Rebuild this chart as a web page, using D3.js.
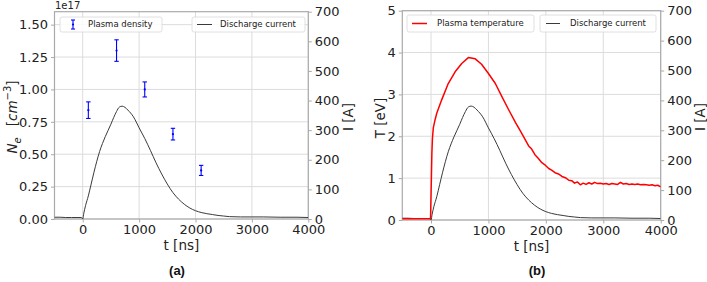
<!DOCTYPE html>
<html>
<head>
<meta charset="utf-8">
<script src="https://cdn.jsdelivr.net/npm/d3@7"></script>
<style>
  body { margin: 0; background: #fff; }
  svg { display: block; font-family: "DejaVu Sans", sans-serif; }
  .tick text { fill: #222; }
</style>
</head>
<body>
<div id="chart"></div>
<script>
// data
let densityT = [100, 600, 1100, 1600, 2100];
let densityN = [0.84, 1.30, 1.00, 0.655, 0.375];   // x 1e17 cm^-3
let densityErr = [0.064, 0.083, 0.058, 0.045, 0.039];

let currentT = [-500, -400, -300, -200, -100, -30, -10, 0, 20, 50, 100, 150, 200, 300, 400, 500, 550, 600, 650, 700, 750, 800, 900, 1000, 1100, 1200, 1300, 1400, 1500, 1600, 1700, 1800, 1900, 2000, 2100, 2200, 2300, 2400, 2500, 2600, 2800, 3000, 3200, 3500, 3800, 4000];
let currentA = [6, 6, 5, 5, 5, 5, 3, 0, 20, 45, 78, 118, 158, 228, 278, 320, 343, 363, 378, 381, 377, 368, 345, 308, 272, 232, 190, 152, 118, 89, 67, 50, 37, 28, 22, 18, 15, 12, 10, 8, 7, 7, 7, 6, 6, 5];

let tempT = [-500, -300, -100, -20, -8, 5, 15, 25, 40, 70, 100, 186, 300, 420, 535, 650, 770, 880, 1000, 1120, 1230, 1350, 1470, 1580, 1700, 1750, 1810, 1870, 1930, 1990, 2050, 2100, 2160, 2220, 2280, 2340, 2400, 2450, 2500, 2550, 2600, 2650, 2700, 2750, 2800, 2850, 2900, 2950, 3000, 3050, 3100, 3150, 3200, 3250, 3300, 3350, 3400, 3450, 3500, 3550, 3600, 3650, 3700, 3750, 3800, 3850, 3900, 3950, 4000];
let tempV = [0.03, 0.03, 0.03, 0.03, 0.05, 0.9, 1.6, 1.95, 2.2, 2.39, 2.55, 2.87, 3.26, 3.54, 3.74, 3.88, 3.85, 3.72, 3.50, 3.26, 2.96, 2.64, 2.33, 2.07, 1.77, 1.70, 1.56, 1.47, 1.37, 1.31, 1.23, 1.19, 1.13, 1.10, 1.04, 1.01, 0.95, 0.94, 0.88, 0.91, 0.84, 0.88, 0.85, 0.89, 0.86, 0.90, 0.87, 0.88, 0.86, 0.87, 0.85, 0.87, 0.86, 0.85, 0.90, 0.86, 0.87, 0.85, 0.86, 0.85, 0.86, 0.84, 0.85, 0.84, 0.83, 0.84, 0.82, 0.83, 0.79];

let xTicks = [0, 1000, 2000, 3000, 4000];
let densityTicks = [0, 0.25, 0.5, 0.75, 1.0, 1.25, 1.5];
let tempTicks = [0, 1, 2, 3, 4, 5];
let currentTicks = [0, 100, 200, 300, 400, 500, 600, 700];

let svg = d3.select("#chart").append("svg")
    .attr("width", 707)
    .attr("height", 282);

let tickFont = "13px";
let labelFont = "13.5px";
let legendFont = "8.5px";
let spine = "#aaa";
let gridColor = "#dcdcdc";

function makePanel(box, yDomain, yTicks, yFormat, clipId) {
    let x = d3.scaleLinear().domain([-500, 4000]).range([box.x0, box.x1]);
    let y = d3.scaleLinear().domain(yDomain).range([box.y1, box.y0]);
    let yR = d3.scaleLinear().domain([0, 700]).range([box.y1, box.y0]);

    svg.append("clipPath").attr("id", clipId)
        .append("rect")
        .attr("x", box.x0).attr("y", box.y0)
        .attr("width", box.x1 - box.x0).attr("height", box.y1 - box.y0);

    // grid
    let g = svg.append("g");
    g.selectAll(".vg").data(xTicks).enter().append("line")
        .attr("x1", d => x(d)).attr("x2", d => x(d))
        .attr("y1", box.y0).attr("y2", box.y1)
        .style("stroke", gridColor);
    g.selectAll(".hg").data(yTicks).enter().append("line")
        .attr("x1", box.x0).attr("x2", box.x1)
        .attr("y1", d => y(d)).attr("y2", d => y(d))
        .style("stroke", gridColor);

    // axes
    let xAx = svg.append("g")
        .attr("transform", `translate(0,${box.y1})`)
        .style("font-size", tickFont)
        .call(d3.axisBottom(x).tickValues(xTicks).tickFormat(d3.format("d")).tickSize(3.5).tickPadding(2).tickSizeOuter(0));
    let yAx = svg.append("g")
        .attr("transform", `translate(${box.x0},0)`)
        .style("font-size", tickFont)
        .call(d3.axisLeft(y).tickValues(yTicks).tickFormat(yFormat).tickSize(3.5).tickPadding(3).tickSizeOuter(0));
    let yRAx = svg.append("g")
        .attr("transform", `translate(${box.x1},0)`)
        .style("font-size", tickFont)
        .call(d3.axisRight(yR).tickValues(currentTicks).tickFormat(d3.format("d")).tickSize(3.5).tickPadding(3).tickSizeOuter(0));
    [xAx, yAx, yRAx].forEach(a => {
        a.selectAll("text").style("font-family", "DejaVu Sans");
        a.selectAll("line").style("stroke", spine);
        a.select(".domain").remove();
    });

    svg.append("rect")
        .attr("x", box.x0).attr("y", box.y0)
        .attr("width", box.x1 - box.x0).attr("height", box.y1 - box.y0)
        .style("fill", "none").style("stroke", spine).style("stroke-width", 1.2);

    svg.append("text")
        .attr("x", (box.x0 + box.x1) / 2).attr("y", box.y1 + 31)
        .attr("text-anchor", "middle")
        .style("font-size", labelFont).style("fill", "#222")
        .text("t [ns]");

    return {x: x, y: y, yR: yR};
}

function drawCurrent(p, clipId) {
    let line = d3.line()
        .x((d, i) => p.x(currentT[i]))
        .y(d => p.yR(d))
        .curve(d3.curveMonotoneX);
    svg.append("path")
        .datum(currentA)
        .attr("clip-path", `url(#${clipId})`)
        .attr("d", line)
        .style("fill", "none")
        .style("stroke", "#3a3a3a")
        .style("stroke-width", 1);
}

function legendBox(x0, x1, y0, y1) {
    svg.append("rect")
        .attr("x", x0).attr("y", y0)
        .attr("width", x1 - x0).attr("height", y1 - y0)
        .attr("rx", 2)
        .style("fill", "#fff").style("fill-opacity", 0.85)
        .style("stroke", "#d8d8d8").style("stroke-width", 0.8);
}

function legendText(x, y, txt) {
    svg.append("text")
        .attr("x", x).attr("y", y)
        .attr("dy", "0.35em")
        .style("font-size", legendFont).style("fill", "#222")
        .text(txt);
}

// ----- panel (a)
let boxA = {x0: 54.5, x1: 308.3, y0: 11.7, y1: 219};
let pA = makePanel(boxA, [0, 1.6], densityTicks, d3.format(".2f"), "clipA");
drawCurrent(pA, "clipA");

let errG = svg.append("g").selectAll("g")
    .data(densityN).enter().append("g")
    .style("stroke", "#0000ff").style("stroke-width", 1.1);
errG.append("line")
    .attr("x1", (d, i) => pA.x(densityT[i])).attr("x2", (d, i) => pA.x(densityT[i]))
    .attr("y1", (d, i) => pA.y(d - densityErr[i])).attr("y2", (d, i) => pA.y(d + densityErr[i]));
errG.append("line")
    .attr("x1", (d, i) => pA.x(densityT[i]) - 2.2).attr("x2", (d, i) => pA.x(densityT[i]) + 2.2)
    .attr("y1", (d, i) => pA.y(d - densityErr[i])).attr("y2", (d, i) => pA.y(d - densityErr[i]));
errG.append("line")
    .attr("x1", (d, i) => pA.x(densityT[i]) - 2.2).attr("x2", (d, i) => pA.x(densityT[i]) + 2.2)
    .attr("y1", (d, i) => pA.y(d + densityErr[i])).attr("y2", (d, i) => pA.y(d + densityErr[i]));
errG.append("circle")
    .attr("cx", (d, i) => pA.x(densityT[i])).attr("cy", d => pA.y(d))
    .attr("r", 1.1).style("fill", "#0000ff").style("stroke", "none");

svg.append("text")
    .attr("x", 55).attr("y", 9)
    .style("font-size", "10px").style("fill", "#222")
    .text("1e17");

// y label N_e [cm^-3]
let neLab = svg.append("text")
    .attr("transform", "translate(17,117) rotate(-90)")
    .attr("text-anchor", "middle")
    .style("font-size", labelFont).style("fill", "#222");
neLab.append("tspan").style("font-style", "italic").text("N");
neLab.append("tspan").attr("dy", 3.5).style("font-style", "italic").style("font-size", "10px").text("e");
neLab.append("tspan").attr("dy", -3.5).text("\u2002 [");
neLab.append("tspan").style("font-style", "italic").text("cm");
neLab.append("tspan").attr("dy", -6).style("font-size", "10px").text("\u22123");
neLab.append("tspan").attr("dy", 6).text("]");

svg.append("text")
    .attr("transform", "translate(353,117) rotate(-90)")
    .attr("text-anchor", "middle")
    .style("font-size", labelFont).style("fill", "#222")
    .text("I [A]");

// legend (a)
legendBox(60, 162, 17, 32);
let lx = 73, ly = 24.5;
let legErr = svg.append("g").style("stroke", "#0000ff").style("stroke-width", 1.1);
legErr.append("line").attr("x1", lx).attr("x2", lx).attr("y1", ly - 4.5).attr("y2", ly + 4.5);
legErr.append("line").attr("x1", lx - 2).attr("x2", lx + 2).attr("y1", ly - 4.5).attr("y2", ly - 4.5);
legErr.append("line").attr("x1", lx - 2).attr("x2", lx + 2).attr("y1", ly + 4.5).attr("y2", ly + 4.5);
legErr.append("circle").attr("cx", lx).attr("cy", ly).attr("r", 1.1).style("fill", "#0000ff").style("stroke", "none");
legendText(88, ly, "Plasma density");

legendBox(192, 305, 17, 32);
svg.append("line").attr("x1", 197).attr("x2", 212).attr("y1", ly).attr("y2", ly)
    .style("stroke", "#3a3a3a").style("stroke-width", 1);
legendText(220, ly, "Discharge current");

svg.append("text")
    .attr("x", 177).attr("y", 275)
    .attr("text-anchor", "middle")
    .style("font-family", "Liberation Sans, Arial, sans-serif")
    .style("font-weight", "bold").style("font-size", "13px").style("fill", "#111")
    .text("(a)");

// ----- panel (b)
let boxB = {x0: 402.3, x1: 660.7, y0: 10.7, y1: 220};
let pB = makePanel(boxB, [0, 5], tempTicks, d3.format("d"), "clipB");
drawCurrent(pB, "clipB");

let tLine = d3.line()
    .x((d, i) => pB.x(tempT[i]))
    .y(d => pB.y(d));
svg.append("path")
    .datum(tempV)
    .attr("clip-path", "url(#clipB)")
    .attr("d", tLine)
    .style("fill", "none")
    .style("stroke", "#ff0000")
    .style("stroke-width", 1.5)
    .style("stroke-linejoin", "round");

svg.append("text")
    .attr("transform", "translate(385,118) rotate(-90)")
    .attr("text-anchor", "middle")
    .style("font-size", labelFont).style("fill", "#222")
    .text("T [eV]");

svg.append("text")
    .attr("transform", "translate(705,117) rotate(-90)")
    .attr("text-anchor", "middle")
    .style("font-size", labelFont).style("fill", "#222")
    .text("I [A]");

// legend (b)
let ly2 = 23.5;
legendBox(407, 534, 15, 32);
svg.append("line").attr("x1", 412).attr("x2", 427).attr("y1", ly2).attr("y2", ly2)
    .style("stroke", "#ff0000").style("stroke-width", 1.5);
legendText(437, ly2, "Plasma temperature");

legendBox(540, 656, 15, 32);
svg.append("line").attr("x1", 546).attr("x2", 560).attr("y1", ly2).attr("y2", ly2)
    .style("stroke", "#3a3a3a").style("stroke-width", 1);
legendText(570, ly2, "Discharge current");

svg.append("text")
    .attr("x", 537).attr("y", 275)
    .attr("text-anchor", "middle")
    .style("font-family", "Liberation Sans, Arial, sans-serif")
    .style("font-weight", "bold").style("font-size", "13px").style("fill", "#111")
    .text("(b)");
</script>
</body>
</html>
